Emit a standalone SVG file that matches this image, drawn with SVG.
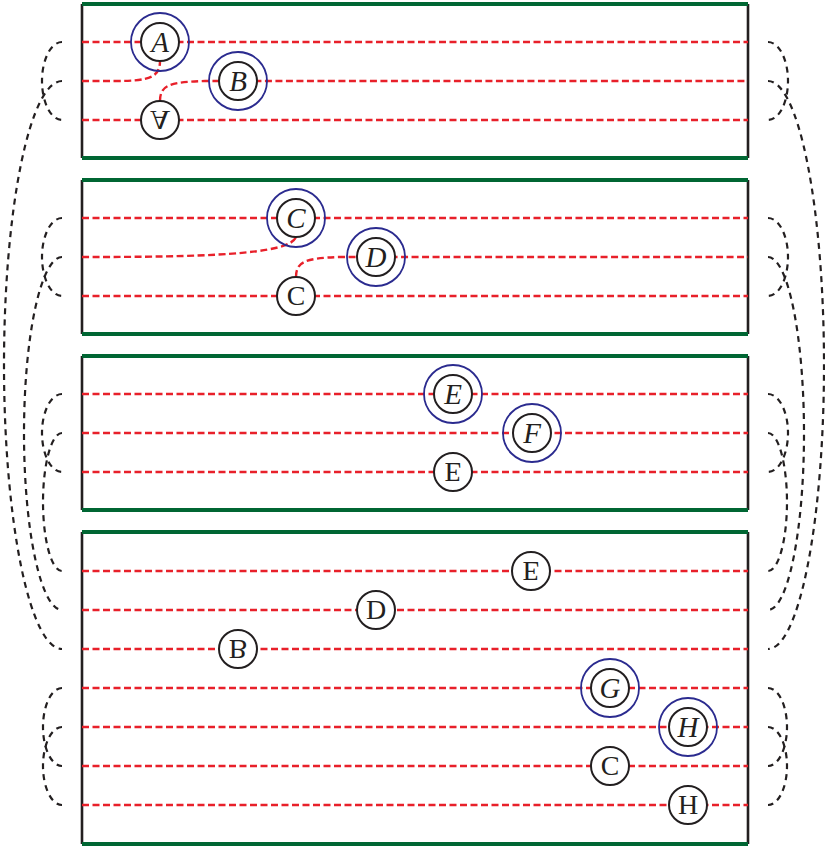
<svg xmlns="http://www.w3.org/2000/svg" width="825" height="849" viewBox="0 0 825 849">
<style>
.bg{fill:#fff}
.wire{fill:none;stroke:#e8202a;stroke-width:2.4;stroke-dasharray:7 3.5}
.edge{stroke:#231f20;stroke-width:2.6;fill:none}
.rail{stroke:#006633;stroke-width:4;fill:none}
.conn{fill:none;stroke:#231f20;stroke-width:2.2;stroke-dasharray:6 5}
.ring{fill:none;stroke:#2b2b8f;stroke-width:1.8}
.node{fill:#fff;stroke:#231f20;stroke-width:2}
.it{font-family:"Liberation Serif",serif;font-style:italic;font-size:29px;fill:#231f20;text-anchor:middle}
.rm{font-family:"Liberation Serif",serif;font-size:28px;fill:#231f20;text-anchor:middle}
</style>
<rect class="bg" x="0" y="0" width="825" height="849"/>

<g id="panels">
  <g id="panel1">
    <line class="edge" x1="82" y1="4" x2="82" y2="158"/>
    <line class="edge" x1="748" y1="4" x2="748" y2="158"/>
    <line class="rail" x1="82" y1="4" x2="748" y2="4"/>
    <line class="rail" x1="82" y1="158" x2="748" y2="158"/>
    <path class="wire" d="M82,42 L748,42"/>
    <path class="wire" d="M82,81 L115,81 C150,81 160,77 160,61"/>
    <path class="wire" d="M160,101 C160,85 170,82 205,81 L748,81"/>
    <path class="wire" d="M82,120 L748,120"/>
  </g>
  <g id="panel2">
    <line class="edge" x1="82" y1="180" x2="82" y2="334"/>
    <line class="edge" x1="748" y1="180" x2="748" y2="334"/>
    <line class="rail" x1="82" y1="180" x2="748" y2="180"/>
    <line class="rail" x1="82" y1="334" x2="748" y2="334"/>
    <path class="wire" d="M82,218 L748,218"/>
    <path class="wire" d="M82,257 C200,257 290,255 296,237"/>
    <path class="wire" d="M296,277 C296,262 305,258 340,257 L748,257"/>
    <path class="wire" d="M82,296 L748,296"/>
  </g>
  <g id="panel3">
    <line class="edge" x1="82" y1="356" x2="82" y2="510"/>
    <line class="edge" x1="748" y1="356" x2="748" y2="510"/>
    <line class="rail" x1="82" y1="356" x2="748" y2="356"/>
    <line class="rail" x1="82" y1="510" x2="748" y2="510"/>
    <path class="wire" d="M82,394 L748,394"/>
    <path class="wire" d="M82,433 L748,433"/>
    <path class="wire" d="M82,472 L748,472"/>
  </g>
  <g id="panel4">
    <line class="edge" x1="82" y1="532" x2="82" y2="844"/>
    <line class="edge" x1="748" y1="532" x2="748" y2="844"/>
    <line class="rail" x1="82" y1="532" x2="748" y2="532"/>
    <line class="rail" x1="82" y1="844" x2="748" y2="844"/>
    <path class="wire" d="M82,571 L748,571"/>
    <path class="wire" d="M82,610 L748,610"/>
    <path class="wire" d="M82,649 L748,649"/>
    <path class="wire" d="M82,688 L748,688"/>
    <path class="wire" d="M82,727 L748,727"/>
    <path class="wire" d="M82,766 L748,766"/>
    <path class="wire" d="M82,805 L748,805"/>
  </g>
</g>

<g id="connectors">
  <path class="conn" d="M62,42 A20,39 0 0 0 62,120"/>
  <path class="conn" d="M62,81 A58,284 0 0 0 62,649"/>
  <path class="conn" d="M62,218 A20,39 0 0 0 62,296"/>
  <path class="conn" d="M62,257 A38,176.5 0 0 0 62,610"/>
  <path class="conn" d="M62,394 A20,39 0 0 0 62,472"/>
  <path class="conn" d="M62,433 A19,69 0 0 0 62,571"/>
  <path class="conn" d="M62,688 A19,39 0 0 0 62,766"/>
  <path class="conn" d="M62,727 A19,39 0 0 0 62,805"/>
  <path class="conn" d="M768,42 A20,39 0 0 1 768,120"/>
  <path class="conn" d="M768,81 A56,284 0 0 1 768,649"/>
  <path class="conn" d="M768,218 A20,39 0 0 1 768,296"/>
  <path class="conn" d="M768,257 A36,176.5 0 0 1 768,610"/>
  <path class="conn" d="M768,394 A20,39 0 0 1 768,472"/>
  <path class="conn" d="M768,433 A19,69 0 0 1 768,571"/>
  <path class="conn" d="M768,688 A19,39 0 0 1 768,766"/>
  <path class="conn" d="M768,727 A19,39 0 0 1 768,805"/>
</g>

<g id="nodeA"><circle class="ring" cx="160" cy="42" r="29"/><circle class="node" cx="160" cy="42" r="19"/><text class="it" x="160" y="51.5">A</text></g>
<g id="nodeB"><circle class="ring" cx="238" cy="81" r="29"/><circle class="node" cx="238" cy="81" r="19"/><text class="it" x="238" y="90.5">B</text></g>
<g id="nodeA2"><circle class="node" cx="160" cy="120" r="19"/><text class="rm" transform="translate(160,120) scale(1,-1)" x="0" y="9.3">A</text></g>

<g id="nodeC"><circle class="ring" cx="296" cy="218" r="29"/><circle class="node" cx="296" cy="218" r="19"/><text class="it" x="296" y="227.5">C</text></g>
<g id="nodeD"><circle class="ring" cx="376" cy="257" r="29"/><circle class="node" cx="376" cy="257" r="19"/><text class="it" x="376" y="266.5">D</text></g>
<g id="nodeC2"><circle class="node" cx="296" cy="296" r="19"/><text class="rm" transform="translate(296,296) scale(1,-1)" x="0" y="9.3">C</text></g>

<g id="nodeE"><circle class="ring" cx="453" cy="394" r="29"/><circle class="node" cx="453" cy="394" r="19"/><text class="it" x="453" y="403.5">E</text></g>
<g id="nodeF"><circle class="ring" cx="532" cy="433" r="29"/><circle class="node" cx="532" cy="433" r="19"/><text class="it" x="532" y="442.5">F</text></g>
<g id="nodeE2"><circle class="node" cx="453" cy="472" r="19"/><text class="rm" transform="translate(453,472) scale(1,-1)" x="0" y="9.3">E</text></g>

<g id="nodeE3"><circle class="node" cx="531" cy="571" r="19"/><text class="rm" transform="translate(531,571) scale(1,-1)" x="0" y="9.3">E</text></g>
<g id="nodeD2"><circle class="node" cx="376" cy="610" r="19"/><text class="rm" transform="translate(376,610) scale(1,-1)" x="0" y="9.3">D</text></g>
<g id="nodeB2"><circle class="node" cx="238" cy="649" r="19"/><text class="rm" transform="translate(238,649) scale(1,-1)" x="0" y="9.3">B</text></g>
<g id="nodeG"><circle class="ring" cx="610" cy="688" r="29"/><circle class="node" cx="610" cy="688" r="19"/><text class="it" x="610" y="697.5">G</text></g>
<g id="nodeH"><circle class="ring" cx="688" cy="727" r="29"/><circle class="node" cx="688" cy="727" r="19"/><text class="it" x="688" y="736.5">H</text></g>
<g id="nodeC3"><circle class="node" cx="610" cy="766" r="19"/><text class="rm" transform="translate(610,766) scale(1,-1)" x="0" y="9.3">C</text></g>
<g id="nodeH2"><circle class="node" cx="688" cy="805" r="19"/><text class="rm" transform="translate(688,805) scale(1,-1)" x="0" y="9.3">H</text></g>
</svg>
